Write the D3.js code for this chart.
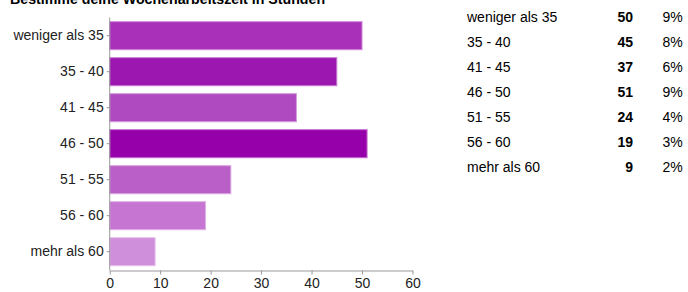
<!DOCTYPE html>
<html>
<head>
<meta charset="utf-8">
<script src="https://cdn.jsdelivr.net/npm/d3@7"></script>
<style>
  body { margin: 0; background: #fff; font-family: "Liberation Sans", Arial, sans-serif; }
  .axis text { font-size: 14px; fill: #222; font-family: "Liberation Sans", Arial, sans-serif; }
  .axis path, .axis line { stroke: #999; }
</style>
</head>
<body>
<div class="infographic"></div>
<script>
var categories = ["weniger als 35", "35 - 40", "41 - 45", "46 - 50", "51 - 55", "56 - 60", "mehr als 60"];
var counts = [50, 45, 37, 51, 24, 19, 9];
var percents = ["9%", "8%", "6%", "9%", "4%", "3%", "2%"];
var barColors = ["#a930b9", "#9c17b0", "#b04ac0", "#9600aa", "#bb5fc8", "#c675d3", "#d08fdb"];
var xTicks = [0, 10, 20, 30, 40, 50, 60];
var title = "Bestimme deine Wochenarbeitszeit in Stunden";

var width = 688, height = 292;

var svg = d3.select(".infographic")
            .append("svg")
            .attr("width", width)
            .attr("height", height);

var x = d3.scaleLinear()
          .domain([0, 60])
          .range([109.7, 412.5]);

var y = d3.scaleBand()
          .domain(categories)
          .range([17.7, 269.7])
          .paddingInner(0.22)
          .paddingOuter(0.11);

svg.append("text")
   .attr("x", 10)
   .attr("y", 3.5)
   .style("font-weight", "bold")
   .style("font-size", "14.2px")
   .style("fill", "#000")
   .text(title);

// bars
svg.append("g")
   .selectAll("rect")
   .data(categories)
   .enter().append("rect")
   .attr("x", x(0))
   .attr("y", function(d){ return y(d); })
   .attr("width", function(d, i){ return x(counts[i]) - x(0); })
   .attr("height", y.bandwidth())
   .attr("fill", function(d, i){ return barColors[i]; })
   .attr("stroke", function(d, i){ return d3.interpolateRgb(barColors[i], "#fff")(0.45); })
   .attr("stroke-width", 1);

// axes
svg.append("g")
   .attr("class", "axis")
   .attr("transform", "translate(" + x(0) + ",0)")
   .call(d3.axisLeft(y).tickSize(3).tickSizeOuter(0).tickPadding(3))
   .select(".domain").attr("d", "M0,17.5V270.5");

svg.append("g")
   .attr("class", "axis")
   .attr("transform", "translate(0,270.5)")
   .call(d3.axisBottom(x).tickValues(xTicks).tickSize(4).tickSizeOuter(0).tickPadding(4));

// summary table
var rowY = d3.scalePoint()
             .domain(categories)
             .range([16.7, 166.7]);

var rows = svg.append("g")
   .selectAll("g")
   .data(categories)
   .enter().append("g")
   .attr("transform", function(d){ return "translate(0," + rowY(d) + ")"; })
   .style("font-size", "14px")
   .style("fill", "#000");

rows.append("text")
    .attr("x", 467)
    .attr("dy", "0.35em")
    .text(function(d){ return d; });

rows.append("text")
    .attr("x", 633)
    .attr("dy", "0.35em")
    .attr("text-anchor", "end")
    .style("font-weight", "bold")
    .text(function(d, i){ return counts[i]; });

rows.append("text")
    .attr("x", 662.5)
    .attr("dy", "0.35em")
    .text(function(d, i){ return percents[i]; });
</script>
</body>
</html>
